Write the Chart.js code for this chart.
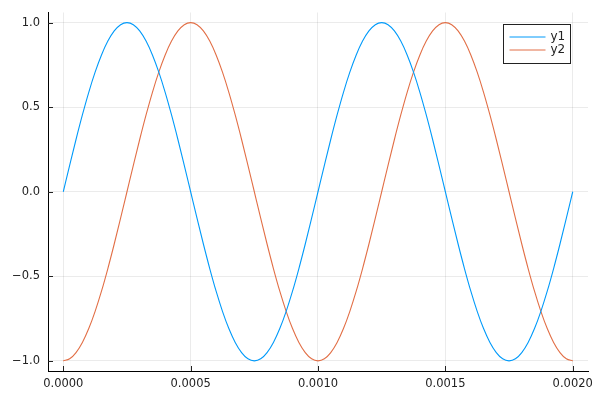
<!DOCTYPE html>
<html>
<head>
<meta charset="utf-8">
<script src="https://cdn.jsdelivr.net/npm/chart.js@4/dist/chart.umd.min.js"></script>
<style>
  html, body { margin: 0; padding: 0; background: #fff; }
  #wrap { width: 600px; height: 400px; }
</style>
</head>
<body>
<div id="wrap"><canvas id="c" width="600" height="400"></canvas></div>
<script>
// time samples in microseconds
const timeUs = [0, 25, 50, 75, 100, 125, 150, 175, 200, 225, 250, 275, 300, 325, 350, 375, 400, 425, 450, 475,
  500, 525, 550, 575, 600, 625, 650, 675, 700, 725, 750, 775, 800, 825, 850, 875, 900, 925, 950, 975,
  1000, 1025, 1050, 1075, 1100, 1125, 1150, 1175, 1200, 1225, 1250, 1275, 1300, 1325, 1350, 1375, 1400, 1425, 1450, 1475,
  1500, 1525, 1550, 1575, 1600, 1625, 1650, 1675, 1700, 1725, 1750, 1775, 1800, 1825, 1850, 1875, 1900, 1925, 1950, 1975, 2000];

const y1 = [0, 0.156, 0.309, 0.454, 0.588, 0.707, 0.809, 0.891, 0.951, 0.988, 1, 0.988, 0.951, 0.891, 0.809, 0.707, 0.588, 0.454, 0.309, 0.156,
  0, -0.156, -0.309, -0.454, -0.588, -0.707, -0.809, -0.891, -0.951, -0.988, -1, -0.988, -0.951, -0.891, -0.809, -0.707, -0.588, -0.454, -0.309, -0.156,
  0, 0.156, 0.309, 0.454, 0.588, 0.707, 0.809, 0.891, 0.951, 0.988, 1, 0.988, 0.951, 0.891, 0.809, 0.707, 0.588, 0.454, 0.309, 0.156,
  0, -0.156, -0.309, -0.454, -0.588, -0.707, -0.809, -0.891, -0.951, -0.988, -1, -0.988, -0.951, -0.891, -0.809, -0.707, -0.588, -0.454, -0.309, -0.156, 0];

const y2 = [-1, -0.988, -0.951, -0.891, -0.809, -0.707, -0.588, -0.454, -0.309, -0.156, 0, 0.156, 0.309, 0.454, 0.588, 0.707, 0.809, 0.891, 0.951, 0.988,
  1, 0.988, 0.951, 0.891, 0.809, 0.707, 0.588, 0.454, 0.309, 0.156, 0, -0.156, -0.309, -0.454, -0.588, -0.707, -0.809, -0.891, -0.951, -0.988,
  -1, -0.988, -0.951, -0.891, -0.809, -0.707, -0.588, -0.454, -0.309, -0.156, 0, 0.156, 0.309, 0.454, 0.588, 0.707, 0.809, 0.891, 0.951, 0.988,
  1, 0.988, 0.951, 0.891, 0.809, 0.707, 0.588, 0.454, 0.309, 0.156, 0, -0.156, -0.309, -0.454, -0.588, -0.707, -0.809, -0.891, -0.951, -0.988, -1];

const xTicks = [0, 0.0005, 0.0010, 0.0015, 0.0020];
const xTickLabels = ['0.0000', '0.0005', '0.0010', '0.0015', '0.0020'];
const yTicks = [-1, -0.5, 0, 0.5, 1];
const yTickLabels = ['\u22121.0', '\u22120.5', '0.0', '0.5', '1.0'];
const seriesNames = ['y1', 'y2'];
const seriesColors = ['#009AFA', '#E26F46'];

const toPoints = ys => ys.map((v, i) => ({ x: timeUs[i] / 1e6, y: v }));

const fontFam = '"DejaVu Sans", sans-serif';

// Plots.jl style: tick marks drawn inward, boxed legend at top right
const plotsLook = {
  id: 'plotsLook',
  afterDraw(chart) {
    const ctx = chart.ctx;
    const area = chart.chartArea;
    const xs = chart.scales.x, ys = chart.scales.y;
    ctx.save();
    ctx.strokeStyle = '#222';
    ctx.lineWidth = 1;
    ctx.beginPath();
    xTicks.forEach(t => {
      const px = Math.round(xs.getPixelForValue(t)) + 0.5;
      ctx.moveTo(px, area.bottom);
      ctx.lineTo(px, area.bottom - 5);
    });
    yTicks.forEach(t => {
      const py = Math.round(ys.getPixelForValue(t)) + 0.5;
      ctx.moveTo(area.left, py);
      ctx.lineTo(area.left + 5, py);
    });
    ctx.stroke();

    // legend
    const bx = Math.round(area.right - 85) + 0.5, by = Math.round(area.top + 11) + 0.5;
    const bw = 67, bh = 39;
    ctx.fillStyle = '#fff';
    ctx.fillRect(bx, by, bw, bh);
    ctx.strokeStyle = '#222';
    ctx.strokeRect(bx, by, bw, bh);
    ctx.font = '12px ' + fontFam;
    ctx.textBaseline = 'middle';
    ctx.textAlign = 'left';
    seriesNames.forEach((name, i) => {
      const ly = by + 12.5 + i * 13;
      ctx.strokeStyle = seriesColors[i];
      ctx.beginPath();
      ctx.moveTo(bx + 6, ly);
      ctx.lineTo(bx + 42, ly);
      ctx.stroke();
      ctx.fillStyle = '#222';
      ctx.fillText(name, bx + 47, ly);
    });
    ctx.restore();
  }
};

new Chart(document.getElementById('c'), {
  type: 'line',
  data: {
    datasets: [
      { label: seriesNames[0], data: toPoints(y1), borderColor: seriesColors[0], borderWidth: 1.1, pointRadius: 0, cubicInterpolationMode: 'monotone', fill: false },
      { label: seriesNames[1], data: toPoints(y2), borderColor: seriesColors[1], borderWidth: 1.1, pointRadius: 0, cubicInterpolationMode: 'monotone', fill: false }
    ]
  },
  options: {
    responsive: false,
    animation: false,
    layout: { padding: { left: 0, right: 12, top: 12.5, bottom: 0 } },
    plugins: { legend: { display: false }, tooltip: { enabled: false } },
    scales: {
      x: {
        type: 'linear',
        min: -0.00006,
        max: 0.00206,
        afterBuildTicks: s => { s.ticks = xTicks.map(v => ({ value: v })); },
        afterFit: s => { s.height = 29; s.paddingLeft = 0; s.paddingRight = 0; },
        ticks: {
          padding: 6,
          maxRotation: 0,
          color: '#222',
          font: { family: fontFam, size: 11.5 },
          callback: (v) => xTickLabels[xTicks.indexOf(v)]
        },
        grid: { color: 'rgba(0,0,0,0.08)', lineWidth: 1, drawTicks: false },
        border: { display: true, color: '#000', width: 1 }
      },
      y: {
        type: 'linear',
        min: -1.06,
        max: 1.06,
        afterBuildTicks: s => { s.ticks = yTicks.map(v => ({ value: v })); },
        afterFit: s => { s.width = 48; s.paddingTop = 0; s.paddingBottom = 0; },
        ticks: {
          padding: 8,
          color: '#222',
          font: { family: fontFam, size: 11.5 },
          callback: (v) => yTickLabels[yTicks.indexOf(v)]
        },
        grid: { color: 'rgba(0,0,0,0.08)', lineWidth: 1, drawTicks: false },
        border: { display: true, color: '#000', width: 1 }
      }
    }
  },
  plugins: [plotsLook]
});
</script>
</body>
</html>
